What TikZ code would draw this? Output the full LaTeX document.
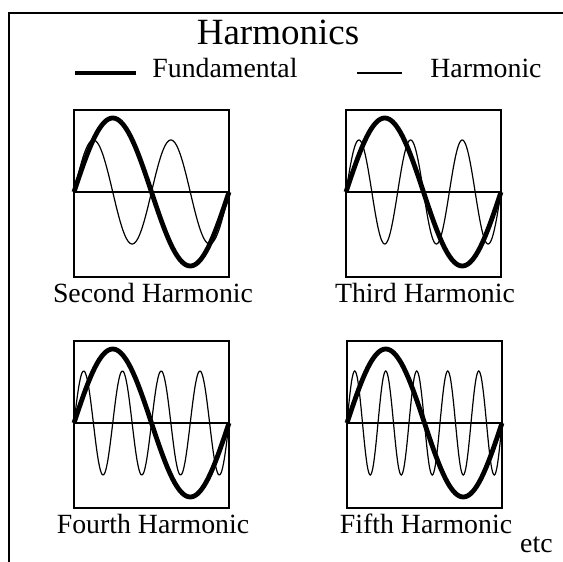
\documentclass[tikz,border=0pt]{standalone}
\usepackage{fontspec}
\setmainfont{Liberation Serif}
\usetikzlibrary{positioning}

\begin{document}
\begin{tikzpicture}[x=0.5pt,y=-0.5pt,
  fund/.style={line width=2.4pt,line join=round},
  harm/.style={line width=0.6pt},
  plotbox/.style={draw,line width=0.75pt},
  lbl/.style={font=\fontsize{13.9}{16}\selectfont,anchor=base,inner sep=0pt}]
  \useasboundingbox (0,0) rectangle (563,562);
  % frame
  \draw[line width=1pt] (563,13) -- (9,13) -- (9,562);
  % title and key
  \node[lbl,font=\fontsize{18.5}{22}\selectfont] (title) at (278,45) {Harmonics};
  \coordinate (fa) at (75,73);
  \coordinate (fb) at (136,73);
  \coordinate (ha) at (357,73);
  \coordinate (hb) at (402,73);
  \draw[line width=1.7pt] (fa) -- (fb);
  \draw[harm] (ha) -- (hb);
  \node[lbl,anchor=base west] (kfund) at (152,77) {Fundamental};
  \node[lbl,anchor=base west] (kharm) at (430,77) {Harmonic};
  % the four plots, one period of the fundamental per box
  \foreach \bx/\by/\n/\nm/\txt in {74/110/2/second/Second Harmonic,
      346/110/3/third/Third Harmonic,
      74/341/4/fourth/Fourth Harmonic,
      347/341/5/fifth/Fifth Harmonic}{
    \begin{scope}[shift={(\bx,\by)}]
      \draw[plotbox] (0,0) rectangle (155,167);
      \draw[harm] (0,82) -- (155,82);
      \draw[harm] plot[domain=0:155,samples=201,smooth] (\x,{82-52*sin(\n*(\x*2.32258))});
      \draw[fund] plot[domain=0:155,samples=81,smooth] (\x,{82-74*sin(\x*2.32258)});
      \node[lbl] (\nm) at (79,192) {\txt};
    \end{scope}
  }
  \node[lbl,anchor=base east] (etc) at (553,552) {etc};
\end{tikzpicture}
\end{document}
